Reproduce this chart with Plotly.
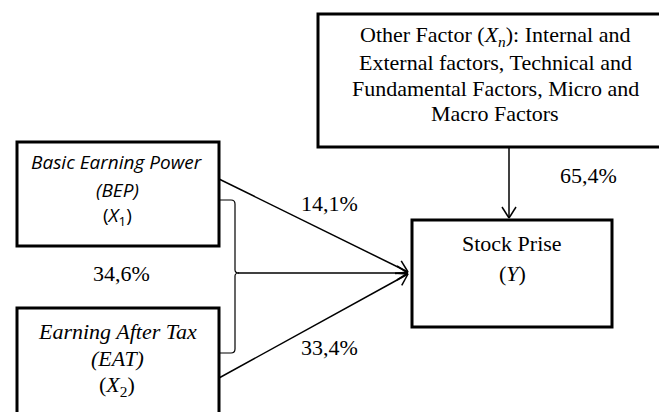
import plotly.graph_objects as go

# ---- diagram content ----
other_lines = ["Other Factor (<i>X<sub>n</sub></i>): Internal and",
               "External factors, Technical and",
               "Fundamental Factors, Micro and",
               "Macro Factors"]
bep_lines = ["<i>Basic Earning Power</i>", "<i>(BEP)</i>", "(<i>X</i><sub>1</sub>)"]
eat_lines = ["<i>Earning After Tax</i>", "<i>(EAT)</i>", "(<i>X</i><sub>2</sub>)"]
stock_lines = ["Stock Prise", "(<i>Y</i>)"]
effect_labels = ["14,1%", "33,4%", "34,6%", "65,4%"]

W, H = 659, 412
SERIF = "Liberation Serif"
SANS = "Open Sans"

fig = go.Figure()
shapes = []
ann = []

def box(x0, y0, x1, y1):
    shapes.append(dict(type="rect", x0=x0, y0=y0, x1=x1, y1=y1, xref="x", yref="y",
                       line=dict(color="black", width=3), fillcolor="white", layer="above"))

def line(x0, y0, x1, y1, w=1.5):
    shapes.append(dict(type="line", x0=x0, y0=y0, x1=x1, y1=y1, xref="x", yref="y",
                       line=dict(color="black", width=w)))

def arrow(x0, y0, x1, y1, L=11, S=7):
    line(x0, y0, x1, y1)
    dx, dy = x1 - x0, y1 - y0
    n = (dx * dx + dy * dy) ** 0.5
    ux, uy = dx / n, dy / n
    px, py = -uy, ux
    bx, by = x1 - ux * L, y1 - uy * L
    line(x1, y1, bx + px * S, by + py * S)
    line(x1, y1, bx - px * S, by - py * S)

def text(x, y, s, font, size):
    ann.append(dict(x=x, y=y, xref="x", yref="y", text=s, showarrow=False,
                    xanchor="center", yanchor="middle",
                    font=dict(family=font, size=size, color="black")))

# boxes
box(318, 14, 680, 147)
box(17, 142, 219, 246)
box(17, 308, 219, 430)
box(412, 220, 612, 327)

# connectors
arrow(219, 179, 408, 272)
arrow(219, 378, 408, 274)
arrow(238, 273, 408, 273)
arrow(509, 147, 509, 218)

# bracket
shapes.append(dict(type="path", xref="x", yref="y",
                   path="M 220 200 L 231 200 Q 235 200 235 204 L 235 270 Q 235 273 239 273 "
                        "Q 235 273 235 276 L 235 349 Q 235 353 231 353 L 220 353",
                   line=dict(color="black", width=1.2)))

# texts
for s, y in zip(other_lines, [36, 62, 88, 113]):
    text(495, y, s, SERIF, 22)
for s, y in zip(bep_lines, [162, 190, 216]):
    text(117, y, s, SANS, 19)
for s, y in zip(eat_lines, [331, 358, 386]):
    text(117, y, s, SERIF, 22)
for s, y in zip(stock_lines, [243, 273]):
    text(512, y, s, SERIF, 22)

label_pos = [(329, 203), (329, 347), (121, 273), (588, 175)]
for s, (x, y) in zip(effect_labels, label_pos):
    text(x, y, s, SERIF, 22)

fig.update_layout(
    width=W, height=H, margin=dict(l=0, r=0, t=0, b=0),
    paper_bgcolor="white", plot_bgcolor="white",
    xaxis=dict(range=[0, W], visible=False, fixedrange=True),
    yaxis=dict(range=[H, 0], visible=False, fixedrange=True),
    shapes=shapes, annotations=ann, showlegend=False,
)
fig.write_html("out.html", config={"displayModeBar": False},
               post_script="document.body.style.margin='0';document.body.style.overflow='hidden';")
